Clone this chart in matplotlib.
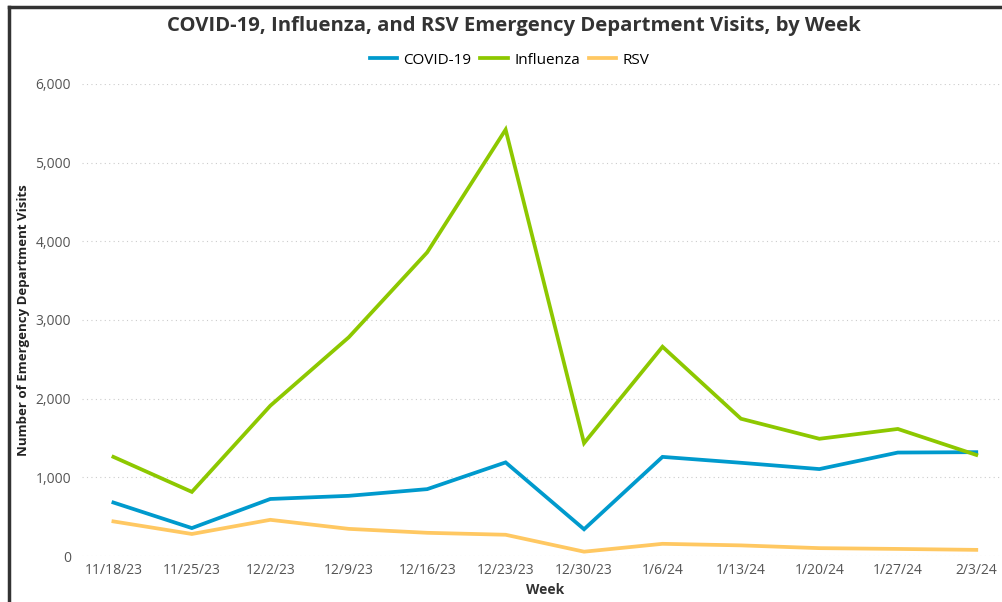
import matplotlib.pyplot as plt
from matplotlib.lines import Line2D
from matplotlib.ticker import FuncFormatter

weeks = ["11/18/23", "11/25/23", "12/2/23", "12/9/23", "12/16/23", "12/23/23",
         "12/30/23", "1/6/24", "1/13/24", "1/20/24", "1/27/24", "2/3/24"]
covid = [680, 355, 725, 765, 850, 1190, 340, 1260, 1185, 1105, 1315, 1320]
flu = [1260, 815, 1910, 2780, 3860, 5420, 1435, 2660, 1745, 1490, 1615, 1285]
rsv = [440, 280, 460, 345, 295, 270, 55, 155, 135, 100, 90, 78]

plt.rcParams['font.family'] = ['Open Sans', 'DejaVu Sans']

fig = plt.figure(figsize=(10.03, 6.02), dpi=100)
ax = fig.add_axes([0.0818, 0.0764, 0.915, 0.7841])

x = range(len(weeks))
ax.plot(x, covid, color='#009ACD', lw=2.7, label='COVID-19', solid_joinstyle='miter')
ax.plot(x, flu, color='#8DC800', lw=2.7, label='Influenza', solid_joinstyle='miter')
ax.plot(x, rsv, color='#FFC862', lw=2.7, label='RSV', solid_joinstyle='miter')

ax.set_xlim(-0.4, 11.3)
ax.set_ylim(0, 6000)
ax.set_yticks(range(0, 6001, 1000))
ax.yaxis.set_major_formatter(FuncFormatter(lambda v, p: f"{int(v):,}"))
ax.set_xticks(list(x))
ax.set_xticklabels(weeks)
ax.tick_params(length=0, labelsize=10, colors='#555555', pad=5)
ax.tick_params(axis='y', pad=8)
ax.grid(axis='y', color='#cccccc', ls=(0, (1, 3)), lw=0.8)
for s in ax.spines.values():
    s.set_visible(False)

ax.set_xlabel("Week", fontsize=10, fontweight='bold', color='#333333')
ax.xaxis.set_label_coords(0.505, -0.058)
ax.set_ylabel("Number of Emergency Department Visits", fontsize=9.5,
              fontweight='bold', color='#222222')
ax.yaxis.set_label_coords(-0.057, 0.5)

fig.text(0.512, 0.956, "COVID-19, Influenza, and RSV Emergency Department Visits, by Week",
         ha='center', va='center', fontsize=14.6, fontweight='bold', color='#333333')
fig.legend(loc='center', bbox_to_anchor=(0.508, 0.9), ncol=3, frameon=False,
           fontsize=11, handlelength=1.8, handletextpad=0.4, columnspacing=0.6)

# screenshot frame on left and top
fig.add_artist(Line2D([0.009, 0.009], [0, 0.988], color='#333333', lw=2.5))
fig.add_artist(Line2D([0.009, 1], [0.988, 0.988], color='#333333', lw=2.5))

fig.savefig("out.png", dpi=100)
